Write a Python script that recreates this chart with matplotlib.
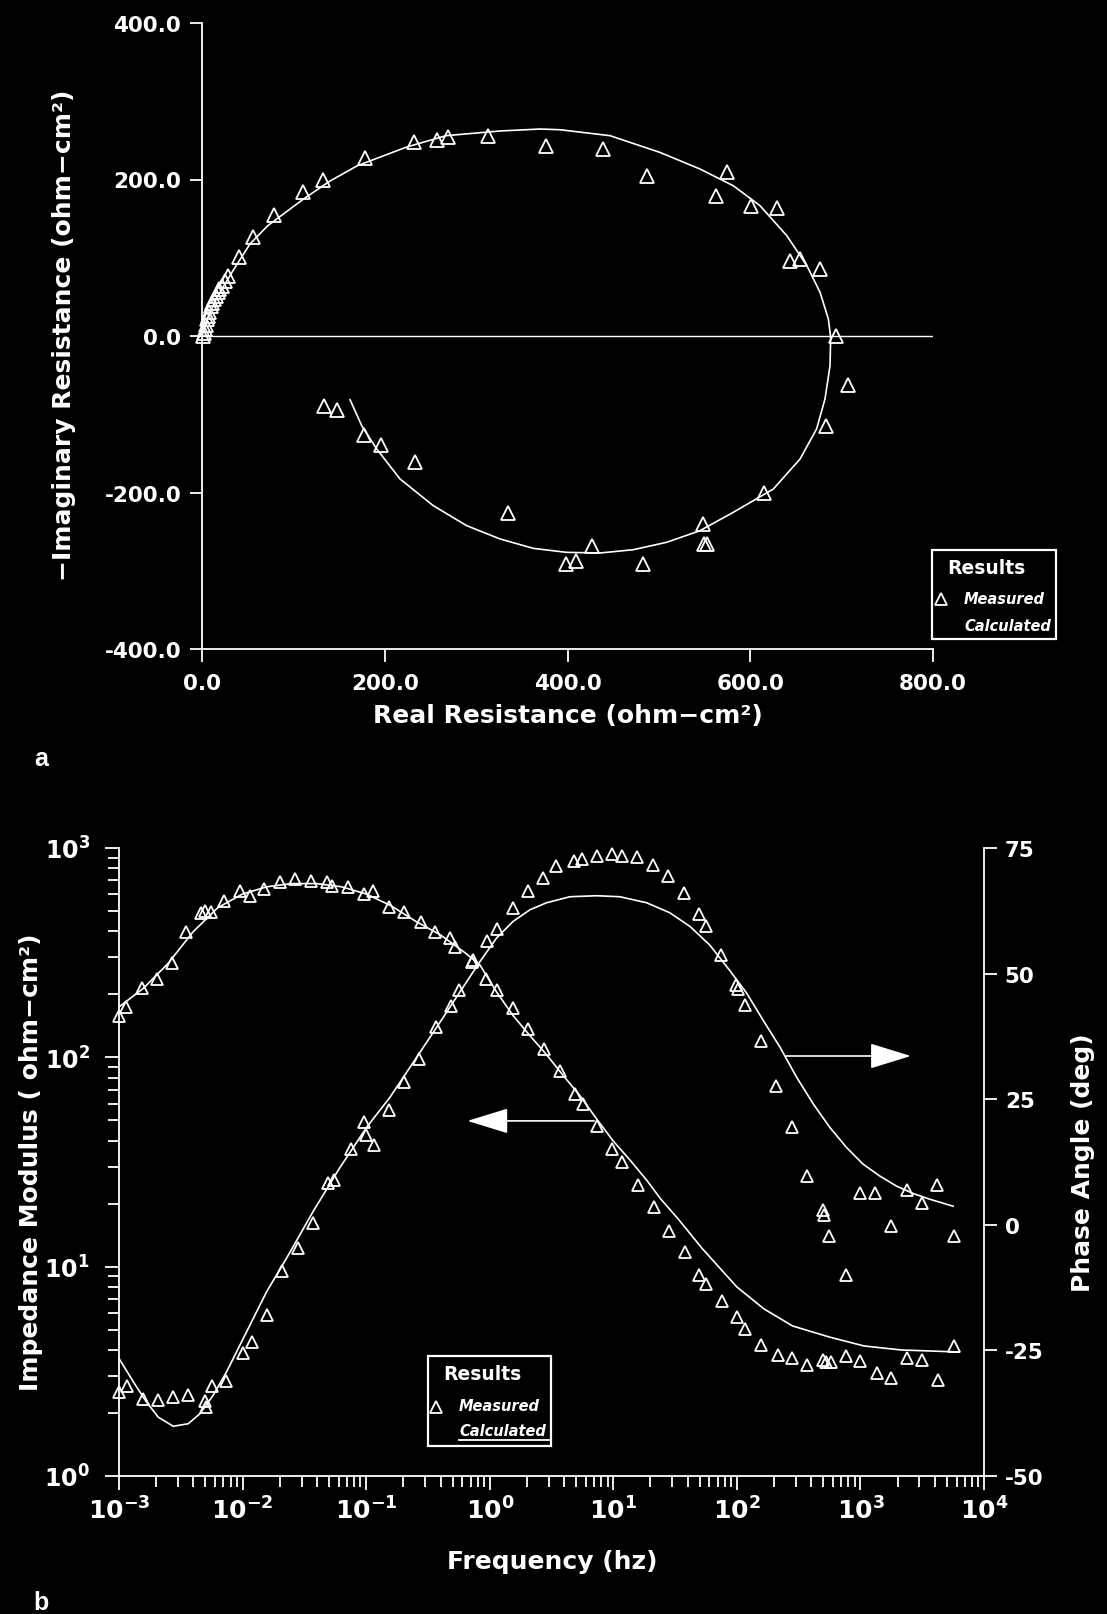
import matplotlib
matplotlib.use("Agg")
import matplotlib.pyplot as plt
from matplotlib.lines import Line2D
from matplotlib.patches import Rectangle
from matplotlib.ticker import FuncFormatter, LogLocator, NullFormatter

plt.rcParams['font.family'] = ['DejaVu Sans']
plt.rcParams['font.weight'] = 'bold'

W, H = 1107, 1615

# ---- panel a: complex plane (ohm-cm2) ----
real_meas = [1.6, 2.5, 3.3, 4, 5.5, 6.5, 7.7, 9.8, 11, 13.1, 15, 17.5, 19, 21.9, 25, 29,
             40.5, 56, 79, 110.5, 132, 178, 232, 257, 269, 313, 376, 439, 487, 562,
             575, 601, 629, 643, 654, 676, 694, 707, 683, 615, 548, 549, 553, 483,
             427, 409, 398, 335, 233, 196, 177, 148, 133]
imag_meas = [0.4, 4, 9, 14, 22, 26, 31, 38, 42, 47, 51, 56, 60, 64, 70, 77,
             101, 126, 154, 184, 200, 228, 248, 250, 254, 256, 243, 239, 204, 179,
             209, 166, 163, 96, 98, 86, 0, -63, -115, -201, -240, -266, -266, -292,
             -269, -287, -291, -226, -161, -139, -126, -95, -89]
real_calc = [0, 5.5, 17.5, 33, 52.5, 72, 111, 140, 170, 224, 267, 326, 370, 392, 446.5,
             501, 545, 581.5, 610.7, 640, 662, 676.4, 685.5, 688, 687.3, 681.8, 672.6,
             654.5, 625.3, 581.5, 545, 508.6, 472, 435.6, 399.1, 362.6, 326.2, 289.7,
             253.2, 216.7, 191.2, 174.8, 162]
imag_calc = [0, 21.7, 51.5, 81.8, 117.6, 141, 175, 198, 217.6, 241.5, 256, 262, 264.5,
             263.6, 256, 234.7, 213.4, 192, 166.5, 128.2, 89.8, 55.8, 21.7, -1.7, -38,
             -80.5, -118.8, -157.2, -195.5, -225.3, -248.8, -263.6, -273.1, -277.3,
             -276.5, -271.4, -259.4, -242.4, -216.9, -182.7, -144.4, -114.6, -81.4]
nyq_xticks = [0, 200, 400, 600, 800]
nyq_yticks = [-400, -200, 0, 200, 400]

# ---- panel b: Bode plot ----
freq_mod = [0.001, 0.00114, 0.00153, 0.00204, 0.00269, 0.00348, 0.0046, 0.00497, 0.00555,
            0.00708, 0.00955, 0.0115, 0.0148, 0.02, 0.0265, 0.0355, 0.0479, 0.0525,
            0.0713, 0.096, 0.1135, 0.153, 0.204, 0.277, 0.363, 0.479, 0.525, 0.718,
            0.931, 1.14, 1.54, 2.04, 2.75, 3.70, 4.90, 5.68, 7.41, 9.77, 11.7, 15.8,
            21.4, 28.2, 38.0, 49.0, 56.2, 75.9, 100, 117, 158, 214, 282, 372, 501,
            525, 575, 759, 1000, 1350, 1780, 2400, 3160, 4270, 5690]
modulus_meas = [158, 174, 215, 237, 282, 397, 490, 501, 495, 558, 624, 590, 638, 689,
                711, 697, 689, 659, 652, 604, 624, 524, 495, 444, 397, 372, 337, 286,
                237, 210, 172, 137, 110, 86, 67, 60, 47, 36.5, 31.6, 24.5, 19.3, 14.8,
                11.7, 9.1, 8.3, 6.85, 5.75, 5.04, 4.23, 3.78, 3.66, 3.39, 3.58, 3.51,
                3.51, 3.74, 3.54, 3.10, 2.94, 3.66, 3.58, 2.88, 4.18]
freq_phase = [0.001, 0.00117, 0.00155, 0.00207, 0.00275, 0.00363, 0.00501, 0.0051,
              0.00562, 0.00741, 0.01, 0.012, 0.0158, 0.0209, 0.0282, 0.0372, 0.049,
              0.055, 0.0759, 0.0955, 0.1, 0.115, 0.153, 0.204, 0.269, 0.367, 0.49,
              0.562, 0.731, 0.948, 1.14, 1.55, 2.04, 2.69, 3.47, 4.79, 5.62, 7.41,
              9.77, 11.7, 15.5, 20.9, 27.5, 37.2, 49, 56.2, 74.1, 98.9, 102, 116, 157,
              207, 279, 372, 501, 505, 556, 759, 1000, 1300, 1760, 2370, 3160, 4170,
              5690]
phase_meas = [-33.2, -32, -34.6, -34.8, -34.2, -33.8, -35, -36.2, -32, -31, -25.6,
              -23.4, -18, -9.2, -4.6, 0.4, 8.4, 9, 15, 20.4, 17.8, 15.8, 22.8, 28.4,
              33, 39.4, 43.6, 46.8, 52.8, 56.4, 58.8, 63, 66.4, 69, 71.4, 72.4, 72.8,
              73.4, 73.8, 73.4, 73.2, 71.6, 69.4, 66, 61.8, 59.4, 53.8, 47.8, 47,
              43.8, 36.6, 27.6, 19.4, 9.8, 3, 2, -2.2, -10, 6.4, 6.4, -0.2, 7, 4.4,
              8, -2.2]
freq_calc_mod = [0.001, 0.00158, 0.00251, 0.00398, 0.00631, 0.01, 0.0158, 0.0251,
                 0.0398, 0.0631, 0.1, 0.158, 0.251, 0.398, 0.631, 0.834, 1.138, 1.549,
                 2.113, 2.884, 3.936, 5.37, 7.328, 10, 13.6, 18.62, 24.3, 33.5, 52.5,
                 100, 166, 282, 562, 1070, 2140, 6310]
modulus_calc = [174, 214, 282, 398, 519, 603, 653, 676, 676, 653, 603, 531, 447, 385,
                316, 276, 205, 158, 127, 103, 81.8, 65.6, 50.8, 39.8, 32.4, 25.9, 21.0,
                16.9, 12.2, 8.0, 6.28, 5.21, 4.61, 4.18, 4.0, 3.91]
freq_calc_phase = [0.001, 0.00131, 0.00167, 0.00208, 0.00275, 0.00363, 0.00452,
                   0.00579, 0.00741, 0.01014, 0.01567, 0.02275, 0.03733, 0.06138,
                   0.1009, 0.156, 0.251, 0.398, 0.562, 0.834, 1.138, 1.549, 2.113,
                   2.884, 4.457, 7.328, 11.30, 18.62, 28.71, 41.69, 60.26, 87.1, 120.2,
                   163.3, 222.8, 304.1, 414, 565, 771, 1047, 1436, 1959, 2692, 3631,
                   5623]
phase_calc = [-26.6, -31.3, -35.3, -38.3, -40.1, -39.6, -37.6, -33.9, -29.3, -22.6,
              -13.3, -6.6, 2.7, 11.4, 19.4, 25.4, 33.0, 40.4, 46.0, 52.4, 57.1, 60.4,
              62.7, 64.1, 65.3, 65.5, 65.3, 64.1, 62.1, 59.4, 55.7, 50.7, 46.1, 40.7,
              35.4, 29.4, 24.1, 19.4, 15.4, 12.1, 9.7, 7.7, 6.2, 5.1, 3.7]
phase_ticks = [-50, -25, 0, 25, 50, 75]


def fx(px):
    return px / W


def fy(py):
    return 1 - py / H


fig = plt.figure(figsize=(W / 100, H / 100), dpi=100, facecolor='black')
tri = dict(marker='^', ls='none', mfc='none', mec='white', mew=1.3)

# ---------------- panel a ----------------
ax1 = fig.add_axes([fx(202), fy(650), fx(933) - fx(202), fy(24) - fy(650)])
ax1.set_facecolor('black')
ax1.set_xlim(0, 800)
ax1.set_ylim(-400, 400)
for s in ['top', 'right']:
    ax1.spines[s].set_visible(False)
for s in ['left', 'bottom']:
    ax1.spines[s].set_color('white')
    ax1.spines[s].set_linewidth(1.3)
ax1.axhline(0, color='white', lw=1.0)
ax1.plot(real_calc, imag_calc, color='white', lw=1.2)
ax1.plot(real_meas, imag_meas, ms=10, clip_on=False, **tri)
ax1.set_xticks(nyq_xticks)
ax1.set_yticks(nyq_yticks)
fmt = FuncFormatter(lambda v, p: f"{v:.1f}")
ax1.xaxis.set_major_formatter(fmt)
ax1.yaxis.set_major_formatter(fmt)
ax1.tick_params(colors='white', direction='out', length=9, width=1.3,
                labelsize=15.5)
ax1.tick_params(axis='x', pad=8)
ax1.tick_params(axis='y', pad=6)

fig.text(fx(64), fy(335), "−Imaginary Resistance (ohm−cm²)", rotation=90,
         ha='center', va='center', color='white', fontsize=18)
fig.text(fx(568), fy(716), "Real Resistance (ohm−cm²)", ha='center',
         va='center', color='white', fontsize=18)

# legend a
fig.add_artist(Rectangle((fx(932), fy(640)), fx(1056) - fx(932), fy(551) - fy(640),
                         transform=fig.transFigure, fill=False, ec='white', lw=1.6))
fig.text(fx(947), fy(569), "Results", color='white', fontsize=13.5, va='center')
fig.add_artist(Line2D([fx(941)], [fy(600)], transform=fig.transFigure, ms=8, **tri))
fig.text(fx(964), fy(600), "Measured", color='white', fontsize=10.5,
         style='italic', va='center')
fig.text(fx(964), fy(627), "Calculated", color='white', fontsize=10.5,
         style='italic', va='center')

fig.text(fx(41), fy(759), "a", color='white', fontsize=18, ha='center',
         va='center', family='Liberation Sans')

# ---------------- panel b ----------------
ax = fig.add_axes([fx(119), fy(1477), fx(984) - fx(119), fy(849) - fy(1477)])
ax.set_facecolor('black')
ax.set_xscale('log')
ax.set_yscale('log')
ax.set_xlim(1e-3, 1e4)
ax.set_ylim(1, 1e3)
ax2 = ax.twinx()
ax2.set_ylim(-50, 75)
ax2.set_yticks(phase_ticks)
ax2.yaxis.set_major_formatter(FuncFormatter(lambda v, p: f"{v:.0f}"))

for s in ['top', 'right']:
    ax.spines[s].set_visible(False)
for s in ['top', 'left', 'bottom']:
    ax2.spines[s].set_visible(False)
for s in ['left', 'bottom']:
    ax.spines[s].set_color('white')
    ax.spines[s].set_linewidth(1.3)
ax2.spines['right'].set_color('white')
ax2.spines['right'].set_linewidth(1.3)

ax.xaxis.set_major_locator(LogLocator(base=10, numticks=12))
ax.xaxis.set_minor_locator(LogLocator(base=10, subs=range(2, 10), numticks=12))
ax.xaxis.set_minor_formatter(NullFormatter())
ax.yaxis.set_minor_locator(LogLocator(base=10, subs=range(2, 10), numticks=12))
ax.yaxis.set_minor_formatter(NullFormatter())

ax.tick_params(which='both', colors='white', direction='out', width=1.3)
ax.tick_params(which='major', length=10)
ax.tick_params(which='minor', length=8)
ax.tick_params(axis='x', which='major', pad=5, labelsize=18)
ax.tick_params(axis='y', which='major', pad=11, labelsize=17)
ax2.tick_params(colors='white', direction='out', width=1.3, length=9,
                labelsize=15.5, pad=6)

ax.plot(freq_calc_mod, modulus_calc, color='white', lw=1.2)
ax.plot(freq_mod, modulus_meas, ms=9, clip_on=False, **tri)
ax2.plot(freq_calc_phase, phase_calc, color='white', lw=1.2)
ax2.plot(freq_phase, phase_meas, ms=9, clip_on=False, **tri)

arrow = dict(arrowstyle='-|>,head_length=1.3,head_width=0.4', color='white',
             lw=1.2, mutation_scale=20, shrinkA=0, shrinkB=0)
ax.annotate('', xy=(0.66, 49.7), xytext=(7.0, 49.7), arrowprops=arrow)
ax2.annotate('', xy=(2560, 33.6), xytext=(250, 33.6), arrowprops=arrow)

fig.text(fx(31), fy(1162), "Impedance Modulus ( ohm−cm²)", rotation=90,
         ha='center', va='center', color='white', fontsize=18)
fig.text(fx(1083), fy(1163), "Phase Angle (deg)", rotation=90,
         ha='center', va='center', color='white', fontsize=18)
fig.text(fx(552), fy(1562), "Frequency (hz)", ha='center', va='center',
         color='white', fontsize=18)

# legend b
fig.add_artist(Rectangle((fx(428), fy(1447)), fx(551) - fx(428), fy(1357) - fy(1447),
                         transform=fig.transFigure, fill=False, ec='white', lw=1.6))
fig.text(fx(443), fy(1375), "Results", color='white', fontsize=13.5, va='center')
fig.add_artist(Line2D([fx(436)], [fy(1408)], transform=fig.transFigure, ms=8, **tri))
fig.text(fx(459), fy(1407), "Measured", color='white', fontsize=10.5,
         style='italic', va='center')
fig.text(fx(459), fy(1432), "Calculated", color='white', fontsize=10.5,
         style='italic', va='center')
fig.add_artist(Line2D([fx(459), fx(549)], [fy(1441), fy(1441)],
                      transform=fig.transFigure, color='white', lw=1.3))

fig.text(fx(41), fy(1603), "b", color='white', fontsize=18, ha='center',
         va='center', family='Liberation Sans')

fig.savefig('out.png', dpi=100, facecolor='black')
